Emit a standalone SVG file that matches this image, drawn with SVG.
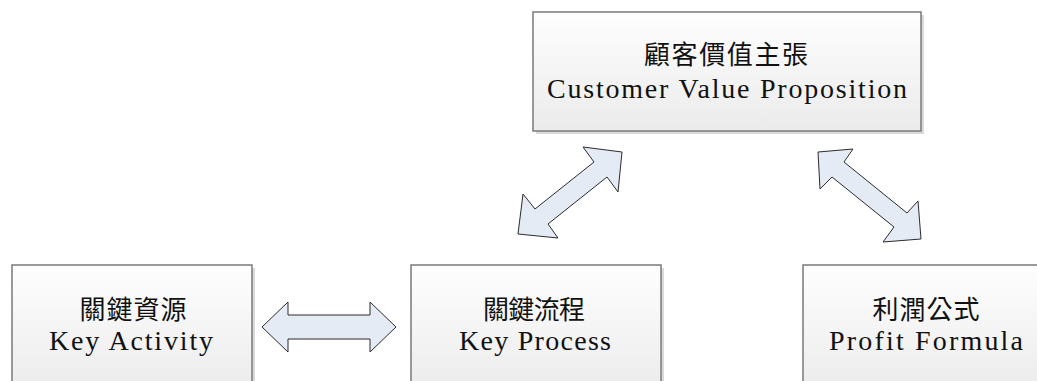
<svg xmlns="http://www.w3.org/2000/svg" width="1037" height="381" viewBox="0 0 1037 381">
  <defs>
    <linearGradient id="boxFill" x1="0" y1="0" x2="0" y2="1">
      <stop offset="0" stop-color="#fefefe"/>
      <stop offset="1" stop-color="#ebebeb"/>
    </linearGradient>
    <style>
      .shadow { fill: #dadada; }
      .box { fill: url(#boxFill); stroke: #7a7a7a; stroke-width: 1.5; }
      .zh { font-family: "Noto Sans CJK TC", "Noto Sans CJK SC", sans-serif; font-size: 26px; fill: #111; text-anchor: middle; }
      .en { font-family: "Liberation Serif", serif; font-size: 28px; fill: #111; text-anchor: middle; }
      .arrow { fill: #e5ebf5; stroke: #2b2b2b; stroke-width: 1; stroke-linejoin: miter; }
    </style>
  </defs>
  <rect width="1037" height="381" fill="#ffffff"/>

  <!-- Customer value proposition -->
  <g id="node-value">
    <rect class="shadow" x="536" y="15" width="388" height="119"/>
    <rect class="box" x="533" y="12" width="388" height="119"/>
    <text class="zh" x="726" y="64" textLength="164" lengthAdjust="spacing">顧客價值主張</text>
    <text class="en" x="727" y="98" textLength="360" lengthAdjust="spacing">Customer Value Proposition</text>
  </g>

  <!-- Key resources -->
  <g id="node-resources">
    <rect class="shadow" x="15" y="268" width="240" height="130"/>
    <rect class="box" x="12" y="265" width="240" height="130"/>
    <text class="zh" x="133" y="319" textLength="107" lengthAdjust="spacing">關鍵資源</text>
    <text class="en" x="131" y="350" textLength="164" lengthAdjust="spacing">Key Activity</text>
  </g>

  <!-- Key process -->
  <g id="node-process">
    <rect class="shadow" x="414" y="268" width="250" height="130"/>
    <rect class="box" x="411" y="265" width="250" height="130"/>
    <text class="zh" x="534" y="319" textLength="102" lengthAdjust="spacing">關鍵流程</text>
    <text class="en" x="535" y="350" textLength="152" lengthAdjust="spacing">Key Process</text>
  </g>

  <!-- Profit formula -->
  <g id="node-profit">
    <rect class="shadow" x="806" y="268" width="250" height="130"/>
    <rect class="box" x="803" y="265" width="250" height="130"/>
    <text class="zh" x="926" y="319" textLength="107" lengthAdjust="spacing">利潤公式</text>
    <text class="en" x="926" y="350" textLength="194" lengthAdjust="spacing">Profit Formula</text>
  </g>

  <!-- Two-way block arrows -->
  <g id="connectors">
    <polygon class="arrow" points="262,327 288,302 288,315 370,315 370,302 396,327 370,352 370,339 288,339 288,352"/>
    <polygon class="arrow" points="622,152 583,147 594,162 535,209 523,194 518,234 558,238 548,224 607,177 618,192"/>
    <polygon class="arrow" points="818,152 853,149 844,162 907,213 918,201 921,239 883,242 894,227 832,177 820,189"/>
  </g>
</svg>
